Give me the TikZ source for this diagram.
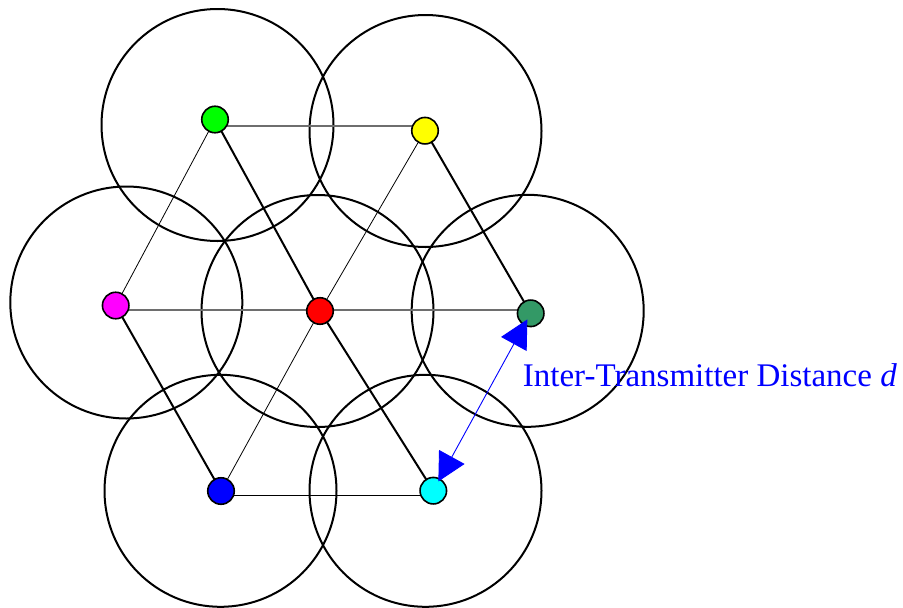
\documentclass[tikz,border=0pt]{standalone}
\usepackage{fontspec}
\setmainfont{Liberation Serif}
\usetikzlibrary{arrows.meta}
\definecolor{dgreen}{RGB}{51,153,102}
\definecolor{hline}{RGB}{110,110,110}
\definecolor{cgreen}{RGB}{0,255,0}
\definecolor{cyellow}{RGB}{255,255,0}
\definecolor{cmagenta}{RGB}{255,0,255}
\definecolor{cred}{RGB}{255,0,0}
\definecolor{cblue}{RGB}{0,0,255}
\definecolor{ccyan}{RGB}{0,255,255}
\tikzset{
  cell/.style={draw=black,line width=2pt},
  tx/.style={circle,draw=black,line width=1.6pt,minimum size=26.5pt,inner sep=0pt},
  thick link/.style={draw=black,line width=2pt},
  thin link/.style={draw=black,line width=0.8pt},
  gray link/.style={draw=hline,line width=1.3pt},
  dist/.style={draw=cblue,line width=0.9pt,{Triangle[length=28pt,width=29pt]}-{Triangle[length=28pt,width=29pt]}},
  lbl/.style={text=cblue,font=\fontsize{33}{37}\selectfont,anchor=base west,inner sep=0pt}
}
\begin{document}
\begin{tikzpicture}[x=1pt,y=-1pt]
\useasboundingbox (0,0) rectangle (903,608);
% cells
\draw[cell] (217.5,125) circle (116);
\draw[cell] (425.5,131) circle (116);
\draw[cell] (126.3,302.5) circle (116);
\draw[cell] (317.5,311) circle (116);
\draw[cell] (527.7,310.8) circle (116);
\draw[cell] (220.5,490.8) circle (116);
\draw[cell] (425.5,490.8) circle (116);
% transmitter positions
\coordinate (pg) at (215,119.5);
\coordinate (py) at (425,130.7);
\coordinate (pm) at (115.7,305.5);
\coordinate (pr) at (320,311);
\coordinate (pd) at (530.7,313.3);
\coordinate (pb) at (221,491);
\coordinate (pc) at (433.3,490.7);
% heights of the horizontal links
\coordinate (h1) at (0,126);
\coordinate (h2) at (0,310);
\coordinate (h3) at (0,495);
% links
\draw[gray link] (pg |- h1) -- (py |- h1);
\draw[gray link] (pm |- h2) -- (pd |- h2);
\draw[thin link] (pb |- h3) -- (pc |- h3);
\draw[thin link] (pg) -- (pm);
\draw[thin link] (py) -- (pr);
\draw[thin link] (pr) -- (pb);
\draw[thick link] (pg) -- (pr);
\draw[thick link] (pr) -- (pc);
\draw[thick link] (py) -- (pd);
\draw[thick link] (pm) -- (pb);
% transmitters
\node[tx,fill=cgreen] (g) at (pg) {};
\node[tx,fill=cyellow] (y) at (py) {};
\node[tx,fill=cmagenta] (m) at (pm) {};
\node[tx,fill=cred] (r) at (pr) {};
\node[tx,fill=dgreen] (d) at (pd) {};
\node[tx,fill=cblue] (b) at (pb) {};
\node[tx,fill=ccyan] (c) at (pc) {};
% distance arrow
\draw[dist,shorten <=10.5pt,shorten >=7pt] (c.center) -- (d.center);
\node[lbl] (t) at (522.7,386.7) {Inter-Transmitter Distance \textit{d}};
\end{tikzpicture}
\end{document}
